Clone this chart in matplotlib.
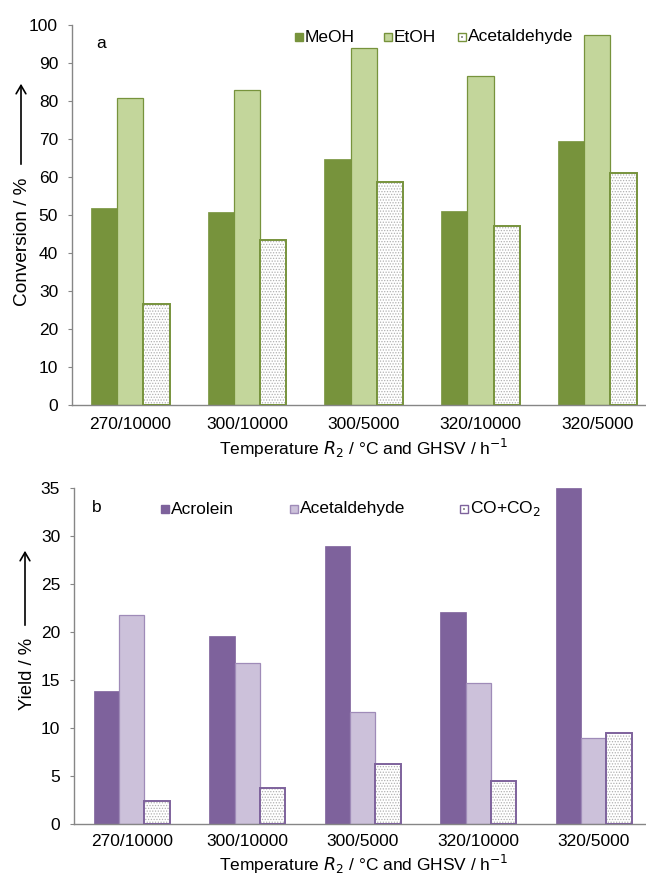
import matplotlib
matplotlib.use("Agg")
import matplotlib.pyplot as plt
import numpy as np

plt.rcParams['font.family'] = ['Liberation Sans', 'DejaVu Sans']
plt.rcParams['hatch.linewidth'] = 0.6

categories = ["270/10000", "300/10000", "300/5000", "320/10000", "320/5000"]

# Panel a: conversion / %
meoh = [51.9, 50.8, 64.8, 51.0, 69.5]
etoh = [80.7, 82.9, 93.9, 86.6, 97.4]
acet_a = [26.6, 43.5, 58.7, 47.0, 61.1]

# Panel b: yield / %
acrolein = [13.8, 19.6, 28.9, 22.1, 35.0]
acet_b = [21.8, 16.8, 11.7, 14.7, 8.9]
cox = [2.4, 3.7, 6.2, 4.5, 9.5]

W, H = 646, 877
fig = plt.figure(figsize=(W / 100, H / 100), dpi=100)

def fx(px):
    return px / W

def fy(py):
    return 1 - py / H

axis_grey = "#868686"
tick_fs = 12.5
label_fs = 12.5
xlabel_text = "Temperature $\\mathit{R}_2$ / °C and GHSV / h$^{-1}$"


def setup(ax, ylim, yticks):
    ax.set_ylim(*ylim)
    ax.set_yticks(yticks)
    for s in ("top", "right"):
        ax.spines[s].set_visible(False)
    for s in ("left", "bottom"):
        ax.spines[s].set_color(axis_grey)
        ax.spines[s].set_linewidth(1.0)
    ax.tick_params(axis="y", direction="out", length=3, color=axis_grey,
                   labelsize=tick_fs, pad=7)
    ax.tick_params(axis="x", length=0, labelsize=tick_fs, pad=9)
    ax.set_xticks(np.arange(len(categories)))
    ax.set_xticklabels(categories)


def dotted_bars(ax, x, vals, width, edge):
    ax.bar(x, vals, width, color="white", edgecolor="#b0b0b0", hatch="......",
           linewidth=0, zorder=2)
    ax.bar(x, vals, width, color="none", edgecolor=edge, linewidth=1.4, zorder=3)


x = np.arange(len(categories))

# ---------------- Panel a ----------------
left_a, right_a = 72, 646
top_a, bot_a = 25, 405
ax1 = fig.add_axes([fx(left_a), fy(bot_a), fx(right_a - left_a), (bot_a - top_a) / H])
bw = 0.225
green_dark = "#77933C"
green_light = "#C3D69B"
ax1.bar(x - bw, meoh, bw, color=green_dark, edgecolor=green_dark, linewidth=0.5,
        zorder=2, label="MeOH")
ax1.bar(x, etoh, bw, color=green_light, edgecolor=green_dark, linewidth=0.9,
        zorder=2, label="EtOH")
dotted_bars(ax1, x + bw, acet_a, bw, green_dark)
span = 116.7
ax1.set_xlim(-0.5, -0.5 + (right_a - left_a) / span)
setup(ax1, (0, 100), np.arange(0, 101, 10))
fig.text(fx(364), fy(448), xlabel_text, fontsize=label_fs, ha="center", va="center")
ax1.text(fx(101), fy(44), "a", transform=fig.transFigure, fontsize=12.5,
         ha="center", va="center")

# legend (manual, figure coords)
def legend_item(px, py, text, face, edge, dotted=False):
    sq = 8
    rect = plt.Rectangle((fx(px - sq / 2), fy(py + sq / 2)), sq / W, sq / H,
                         transform=fig.transFigure, facecolor=face, edgecolor=edge,
                         linewidth=1.0)
    fig.add_artist(rect)
    if dotted:
        fig.add_artist(plt.Rectangle((fx(px - 1.2), fy(py + 1.2)), 2.4 / W, 2.4 / H,
                                     transform=fig.transFigure, facecolor="#999999",
                                     edgecolor="none"))
    fig.text(fx(px + 6), fy(py), text, fontsize=12.5, ha="left", va="center")

legend_item(299, 37, "MeOH", green_dark, green_dark)
legend_item(388, 37, "EtOH", green_light, green_dark)
legend_item(462, 37, "Acetaldehyde", "white", green_dark, dotted=True)

# y label and arrow a
fig.text(fx(23), fy(242), "Conversion / %", rotation=90, fontsize=13.7,
         ha="center", va="center")
fig.add_artist(matplotlib.patches.FancyArrowPatch(
    (fx(21), fy(167)), (fx(21), fy(81)), transform=fig.transFigure,
    arrowstyle="->,head_length=6,head_width=3.5", color="black", linewidth=1.2,
    mutation_scale=1))

# ---------------- Panel b ----------------
left_b, right_b = 74, 646
top_b, bot_b = 487.7, 824
ax2 = fig.add_axes([fx(left_b), fy(bot_b), fx(right_b - left_b), (bot_b - top_b) / H])
purple = "#7E629C"
purple_light = "#CCC1DA"
bw2 = 0.22
ax2.bar(x - bw2, acrolein, bw2, color=purple, edgecolor=purple, linewidth=0.5,
        zorder=2, label="Acrolein")
ax2.bar(x, acet_b, bw2, color=purple_light, edgecolor="#9F8BB8", linewidth=0.9,
        zorder=2, label="Acetaldehyde")
dotted_bars(ax2, x + bw2, cox, bw2, purple)
span2 = 115.5
ax2.set_xlim(-0.5, -0.5 + (right_b - left_b) / span2)
setup(ax2, (0, 35), np.arange(0, 36, 5))
ax2.tick_params(axis="x", pad=7)
fig.text(fx(364), fy(864), xlabel_text, fontsize=label_fs, ha="center", va="center")
ax2.text(fx(97), fy(507), "b", transform=fig.transFigure, fontsize=12.5,
         ha="center", va="center")

legend_item(165, 509, "Acrolein", purple, purple)
legend_item(294, 509, "Acetaldehyde", purple_light, "#9F8BB8")
legend_item(464, 509, "CO+CO$_2$", "white", purple, dotted=True)

fig.text(fx(28), fy(674), "Yield / %", rotation=90, fontsize=13.3,
         ha="center", va="center")
fig.add_artist(matplotlib.patches.FancyArrowPatch(
    (fx(25), fy(628)), (fx(25), fy(548)), transform=fig.transFigure,
    arrowstyle="->,head_length=6,head_width=3.5", color="black", linewidth=1.2,
    mutation_scale=1))

fig.savefig("out.png", dpi=100, facecolor="white")
